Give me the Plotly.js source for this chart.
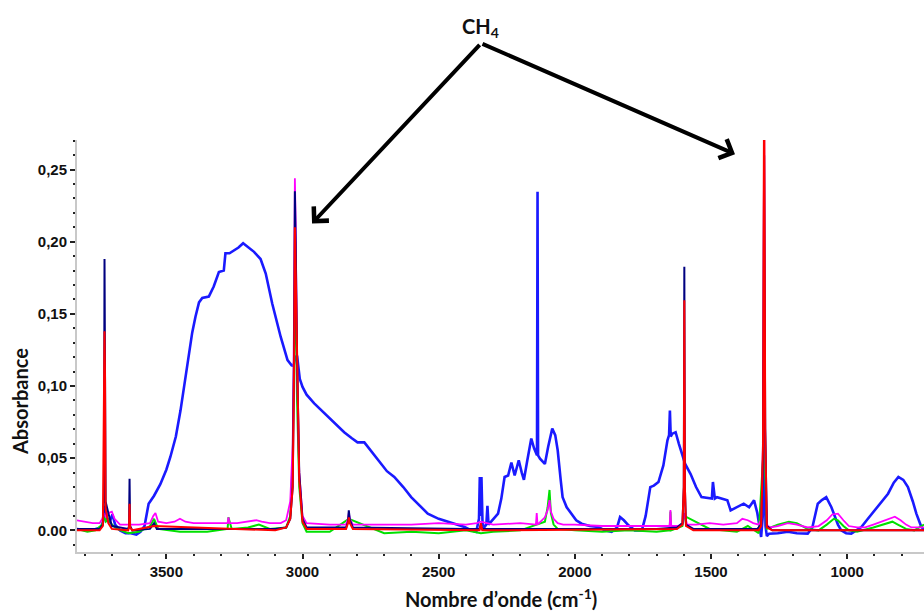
<!DOCTYPE html>
<html>
<head>
<meta charset="utf-8">
<script src="https://cdn.plot.ly/plotly-3.0.1.min.js"></script>
<style>
  html, body { margin: 0; padding: 0; background: #ffffff; }
  #chart { width: 924px; height: 611px; }
</style>
</head>
<body>
<div id="chart"></div>
<script>
// ---------- data ----------
const yTickVals = [0, 0.05, 0.10, 0.15, 0.20, 0.25];
const yTickText = ['0.00', '0,05', '0,10', '0,15', '0,20', '0,25'];
const xTickVals = [3500, 3000, 2500, 2000, 1500, 1000];
const xTickText = ['3500', '3000', '2500', '2000', '1500', '1000'];

const blueWn = [3830, 3790, 3760, 3740, 3732, 3726, 3718, 3708, 3698, 3688, 3670, 3650, 3630, 3610, 3595, 3580, 3565, 3545, 3522, 3500, 3485, 3465, 3448, 3430, 3418, 3405, 3393, 3380, 3368, 3344, 3326, 3307, 3289, 3283, 3268, 3252, 3235, 3218, 3200, 3178, 3154, 3135, 3111, 3080, 3055, 3040, 3033, 3026, 3020, 3010, 3000, 2985, 2957, 2930, 2908, 2880, 2847, 2820, 2798, 2773, 2745, 2712, 2690, 2663, 2630, 2601, 2570, 2540, 2500, 2466, 2430, 2405, 2380, 2362, 2352, 2349, 2346, 2343, 2339, 2333, 2325, 2321, 2317, 2300, 2282, 2270, 2258, 2245, 2233, 2221, 2206, 2195, 2187, 2175, 2160, 2150, 2145, 2139, 2137, 2135, 2128, 2110, 2098, 2083, 2072, 2063, 2052, 2045, 2030, 2012, 1995, 1975, 1945, 1914, 1890, 1865, 1845, 1834, 1820, 1803, 1780, 1754, 1740, 1723, 1710, 1693, 1675, 1660, 1654, 1651, 1648, 1642, 1630, 1618, 1610, 1602, 1595, 1575, 1555, 1535, 1505, 1497, 1493, 1486, 1478, 1460, 1440, 1428, 1405, 1380, 1360, 1342, 1330, 1322, 1316, 1310, 1306, 1303, 1300, 1295, 1287, 1255, 1218, 1185, 1145, 1128, 1108, 1093, 1077, 1058, 1046, 1034, 1022, 1004, 985, 964, 948, 924, 899, 874, 850, 829, 812, 794, 777, 759, 746, 729, 718];
const blueAbs = [0.001, 0.000, 0.001, 0.002, 0.006, 0.017, 0.008, 0.006, 0.011, 0.004, 0.000, -0.002, -0.002, -0.003, -0.001, 0.003, 0.0185, 0.024, 0.032, 0.042, 0.051, 0.065, 0.083, 0.105, 0.120, 0.137, 0.148, 0.158, 0.161, 0.162, 0.169, 0.179, 0.180, 0.192, 0.192, 0.194, 0.196, 0.199, 0.196, 0.193, 0.188, 0.178, 0.157, 0.134, 0.118, 0.1144, 0.114, 0.120, 0.121, 0.105, 0.0994, 0.094, 0.088, 0.083, 0.0786, 0.074, 0.068, 0.064, 0.061, 0.061, 0.054, 0.046, 0.041, 0.037, 0.030, 0.023, 0.017, 0.0116, 0.008, 0.0058, 0.004, 0.0023, 0.000, -0.001, 0.008, 0.037, 0.010, 0.037, 0.005, 0.002, 0.004, 0.017, 0.004, 0.008, 0.0116, 0.022, 0.037, 0.038, 0.047, 0.038, 0.0486, 0.040, 0.035, 0.048, 0.0636, 0.057, 0.0543, 0.052, 0.2346, 0.052, 0.0497, 0.046, 0.058, 0.0705, 0.066, 0.0555, 0.035, 0.023, 0.016, 0.0116, 0.007, 0.0046, 0.003, 0.0023, 0.000, -0.001, 0.002, 0.0092, 0.007, 0.0035, 0.000, 0.000, 0.010, 0.030, 0.031, 0.0335, 0.045, 0.0624, 0.066, 0.083, 0.065, 0.067, 0.068, 0.060, 0.0555, 0.050, 0.046, 0.039, 0.030, 0.023, 0.022, 0.022, 0.0335, 0.022, 0.023, 0.022, 0.0208, 0.0139, 0.016, 0.0185, 0.016, 0.0208, 0.012, 0.0023, -0.0046, 0.010, 0.118, 0.072, 0.003, -0.004, -0.0023, -0.002, -0.001, -0.002, -0.0023, 0.002, 0.0185, 0.021, 0.023, 0.016, 0.0092, 0.004, 0.000, -0.002, -0.0023, 0.000, 0.0023, 0.008, 0.0139, 0.020, 0.0254, 0.033, 0.037, 0.035, 0.030, 0.020, 0.0116, 0.003, 0.000];

const navyWn = [3830, 3745, 3733, 3729, 3727, 3723, 3713, 3700, 3640, 3637, 3635, 3633, 3625, 3560, 3545, 3535, 3100, 3060, 3045, 3036, 3031, 3028, 3025, 3020, 3012, 3000, 2985, 2840, 2833, 2830, 2826, 2815, 2400, 2350, 2345, 2340, 2100, 1700, 1625, 1605, 1600, 1598, 1596, 1592, 1565, 1330, 1316, 1309, 1305, 1301, 1295, 1275, 718];
const navyAbs = [0.001, 0.001, 0.004, 0.02, 0.188, 0.02, 0.012, 0.003, 0.001, 0.003, 0.0358, 0.003, 0.000, 0.001, 0.005, 0.001, 0.001, 0.002, 0.008, 0.03, 0.12, 0.235, 0.20, 0.12, 0.04, 0.008, 0.002, 0.002, 0.006, 0.0139, 0.007, 0.002, 0.001, 0.001, 0.004, 0.001, 0.001, 0.001, 0.002, 0.005, 0.03, 0.1826, 0.03, 0.004, 0.001, 0.001, 0.004, 0.05, 0.26, 0.07, 0.003, 0.000, 0.000];

const redWn = [3830, 3745, 3733, 3729, 3727, 3725, 3723, 3713, 3700, 3640, 3637, 3635, 3633, 3625, 3545, 3100, 3060, 3045, 3036, 3031, 3028, 3025, 3020, 3012, 3000, 2985, 2840, 2833, 2830, 2826, 2815, 2350, 2345, 2340, 1625, 1605, 1600, 1598, 1596, 1592, 1565, 1325, 1316, 1309, 1305, 1303, 1301, 1295, 1275, 718];
const redAbs = [0.000, 0.000, 0.003, 0.105, 0.138, 0.105, 0.015, 0.005, 0.001, 0.000, 0.002, 0.0185, 0.002, 0.000, 0.003, 0.000, 0.002, 0.008, 0.03, 0.11, 0.21, 0.18, 0.11, 0.035, 0.006, 0.001, 0.001, 0.005, 0.009, 0.005, 0.001, 0.000, 0.005, 0.000, 0.001, 0.004, 0.03, 0.1595, 0.03, 0.003, 0.000, 0.000, 0.003, 0.06, 0.32, 0.23, 0.07, 0.002, 0.000, 0.000];

const magentaWn = [3830, 3800, 3770, 3745, 3735, 3729, 3722, 3712, 3700, 3690, 3670, 3640, 3600, 3560, 3548, 3540, 3530, 3500, 3470, 3450, 3430, 3400, 3350, 3300, 3275, 3272, 3268, 3240, 3200, 3170, 3150, 3120, 3080, 3060, 3045, 3036, 3031, 3028, 3025, 3020, 3012, 3000, 2985, 2900, 2840, 2833, 2830, 2826, 2815, 2700, 2600, 2500, 2400, 2360, 2345, 2300, 2200, 2143, 2140, 2137, 2125, 2110, 2100, 2093, 2088, 2078, 2063, 2043, 2000, 1900, 1800, 1700, 1660, 1652, 1649, 1646, 1625, 1605, 1598, 1588, 1555, 1505, 1455, 1405, 1385, 1365, 1345, 1325, 1315, 1309, 1305, 1301, 1295, 1285, 1255, 1218, 1185, 1145, 1105, 1075, 1055, 1034, 1014, 994, 964, 934, 904, 874, 844, 825, 804, 784, 764, 744, 728, 718];
const magentaAbs = [0.007, 0.006, 0.005, 0.005, 0.008, 0.012, 0.009, 0.012, 0.013, 0.008, 0.004, 0.004, 0.004, 0.005, 0.010, 0.012, 0.006, 0.005, 0.006, 0.008, 0.006, 0.005, 0.005, 0.005, 0.005, 0.009, 0.005, 0.005, 0.006, 0.007, 0.006, 0.005, 0.005, 0.007, 0.02, 0.06, 0.15, 0.244, 0.21, 0.12, 0.04, 0.01, 0.005, 0.004, 0.004, 0.008, 0.012, 0.008, 0.004, 0.004, 0.004, 0.005, 0.004, 0.005, 0.006, 0.004, 0.005, 0.004, 0.012, 0.004, 0.006, 0.009, 0.014, 0.021, 0.013, 0.008, 0.005, 0.004, 0.004, 0.003, 0.003, 0.003, 0.003, 0.003, 0.014, 0.003, 0.003, 0.004, 0.012, 0.004, 0.004, 0.005, 0.004, 0.005, 0.008, 0.007, 0.005, 0.004, 0.008, 0.06, 0.30, 0.06, 0.004, 0.002, 0.003, 0.005, 0.004, 0.002, 0.003, 0.007, 0.011, 0.0116, 0.007, 0.003, 0.002, 0.002, 0.004, 0.006, 0.008, 0.0095, 0.007, 0.004, 0.002, 0.002, 0.002, 0.002];

const greenWn = [3830, 3790, 3760, 3735, 3729, 3722, 3712, 3700, 3680, 3640, 3600, 3560, 3545, 3530, 3450, 3350, 3275, 3272, 3260, 3200, 3160, 3120, 3060, 3045, 3036, 3031, 3028, 3025, 3020, 3012, 3000, 2985, 2900, 2830, 2700, 2600, 2500, 2400, 2345, 2300, 2200, 2110, 2100, 2093, 2088, 2078, 2063, 2000, 1900, 1800, 1700, 1652, 1649, 1646, 1605, 1598, 1505, 1405, 1365, 1325, 1309, 1305, 1301, 1295, 1255, 1214, 1185, 1145, 1105, 1075, 1049, 1034, 1014, 994, 964, 904, 854, 834, 814, 784, 754, 728, 718];
const greenAbs = [0.001, -0.001, 0.000, 0.004, 0.010, 0.006, 0.008, 0.004, 0.001, -0.002, -0.001, 0.003, 0.008, 0.001, -0.001, -0.001, 0.001, 0.009, 0.001, 0.002, 0.004, 0.001, 0.002, 0.010, 0.05, 0.12, 0.17, 0.15, 0.09, 0.03, 0.005, -0.001, -0.001, 0.008, -0.002, -0.001, -0.002, 0.000, -0.002, -0.001, 0.000, 0.006, 0.016, 0.028, 0.012, 0.004, 0.001, 0.000, -0.001, 0.000, -0.001, 0.000, 0.013, 0.000, 0.003, 0.010, 0.001, -0.001, 0.003, -0.002, 0.05, 0.113, 0.04, 0.001, 0.004, 0.006, 0.005, 0.001, 0.000, 0.004, 0.008, 0.007, 0.003, 0.000, -0.001, 0.002, 0.005, 0.006, 0.004, 0.001, 0.000, 0.003, 0.004];

// ---------- chart ----------
const traces = [
  { x: blueWn, y: blueAbs, color: '#1a1aff', width: 2.6 },
  { x: greenWn, y: greenAbs, color: '#00e000', width: 2 },
  { x: magentaWn, y: magentaAbs, color: '#ff00ff', width: 1.8 },
  { x: navyWn, y: navyAbs, color: '#000080', width: 2 },
  { x: redWn, y: redAbs, color: '#ff0000', width: 2 }
].map(s => ({
  type: 'scatter', mode: 'lines', x: s.x, y: s.y,
  line: { color: s.color, width: s.width }, hoverinfo: 'skip', showlegend: false
}));

const tickFont = { family: 'Liberation Sans, Arial, sans-serif', size: 15, color: '#111', weight: 'bold' };
const titleFont = { family: 'Lato, Liberation Sans, sans-serif', size: 20, color: '#111', weight: 'bold' };

const layout = {
  width: 924, height: 611,
  margin: { l: 77, r: 0, t: 140, b: 59 },
  paper_bgcolor: '#ffffff', plot_bgcolor: '#ffffff',
  showlegend: false,
  xaxis: {
    range: [3828, 718], showgrid: false, zeroline: false,
    showline: true, linecolor: '#c8c8c8', linewidth: 2,
    tickmode: 'array', tickvals: xTickVals, ticktext: xTickText,
    ticks: 'outside', ticklen: 5, tickwidth: 2, tickcolor: '#222',
    minor: { dtick: 100, ticks: 'outside', ticklen: 2, tickwidth: 2, tickcolor: '#222' },
    tickfont: tickFont
  },
  yaxis: {
    range: [-0.015, 0.2705], showgrid: false, zeroline: false,
    showline: true, linecolor: '#c8c8c8', linewidth: 2,
    tickmode: 'array', tickvals: yTickVals, ticktext: yTickText,
    ticks: 'outside', ticklen: 5, tickwidth: 2, tickcolor: '#222',
    minor: { dtick: 0.01, ticks: 'outside', ticklen: 2, tickwidth: 2, tickcolor: '#222' },
    tickfont: tickFont
  },
  annotations: [
    { xref: 'paper', yref: 'paper', x: 0.5, y: -0.112, xanchor: 'center', yanchor: 'middle',
      text: 'Nombre d’onde (cm<sup>-1</sup>)', showarrow: false, font: titleFont },
    { xref: 'paper', yref: 'paper', x: -0.0673, y: 0.3665, xanchor: 'center', yanchor: 'middle',
      text: 'Absorbance', textangle: -90, showarrow: false, font: titleFont },
    { xref: 'paper', yref: 'paper', x: 0.4764, y: 1.272, xanchor: 'center', yanchor: 'middle',
      text: 'CH<sub>4</sub>', showarrow: false, font: titleFont },
    { xref: 'x', yref: 'y', x: 2965, y: 0.2127, ax: 169, ay: -180, text: '',
      showarrow: true, arrowhead: 4, arrowsize: 1, arrowwidth: 4, arrowcolor: '#000', standoff: 0 },
    { xref: 'x', yref: 'y', x: 1412, y: 0.2607, ax: -254, ay: -111, text: '',
      showarrow: true, arrowhead: 4, arrowsize: 1, arrowwidth: 4, arrowcolor: '#000', standoff: 0 }
  ]
};

Plotly.newPlot('chart', traces, layout, { staticPlot: true, displayModeBar: false });
</script>
</body>
</html>
